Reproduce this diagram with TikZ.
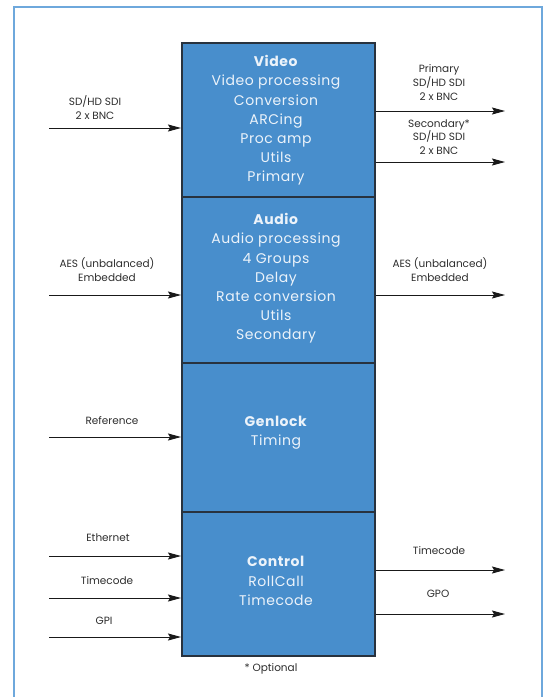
\documentclass[tikz,border=0pt]{standalone}
\usepackage{fontspec}
\setmainfont{Poppins}
\newfontfamily\boxfont[LetterSpace=4]{Poppins}
\usetikzlibrary{arrows.meta}
\definecolor{boxblue}{RGB}{72,142,204}
\definecolor{boxline}{RGB}{40,50,62}
\definecolor{boxtext}{RGB}{236,243,250}
\definecolor{framecol}{RGB}{110,168,220}
\definecolor{labeltext}{RGB}{45,45,45}
\definecolor{arrowcol}{RGB}{25,25,25}
\begin{document}
\begin{tikzpicture}[x=1pt,y=-1pt,
  blk/.style={draw=boxline, line width=1.5pt, fill=boxblue,
    minimum width=193pt, anchor=north west, inner sep=0pt},
  blktext/.style={text=boxtext, align=center, inner sep=0pt,
    font=\boxfont\fontsize{14}{19.2}\selectfont},
  lbl/.style={font=\fontsize{10.5}{13.8}\selectfont, align=center, text=labeltext, inner sep=0pt},
  arr/.style={draw=arrowcol, line width=0.9pt, -{Stealth[length=13pt,width=7pt,inset=2pt]}}]
\useasboundingbox (0,0) rectangle (549,697);
% frame
\draw[framecol, line width=1.2pt] (14,700) -- (14,7) -- (542,7) -- (542,700);
% blocks
\node[blk, minimum height=154pt] (video) at (181,42) {};
\node[blk, minimum height=166pt] (audio) at (181,196) {};
\node[blk, minimum height=149pt] (genlock) at (181,362) {};
\node[blk, minimum height=144pt] (control) at (181,511) {};
\node[blktext] (videot) at (276,120.5)
  {\textbf{Video}\\Video processing\\Conversion\\ARCing\\Proc amp\\Utils\\Primary};
\node[blktext] (audiot) at (276,278.5)
  {\textbf{Audio}\\Audio processing\\4 Groups\\Delay\\Rate conversion\\Utils\\Secondary};
\node[blktext] (genlockt) at (276,432.5) {\textbf{Genlock}\\Timing};
\node[blktext] (controlt) at (276,581) {\textbf{Control}\\RollCall\\Timecode};
% video in
\coordinate (vin) at (49,128);
\draw[arr] (vin) -- (vin -| video.west);
\node[lbl] (vinl) at (95,107.5) {SD/HD SDI\\2 x BNC};
% video out
\coordinate (vout1) at (505,111);
\draw[arr] (vout1 -| video.east) -- (vout1);
\node[lbl] (vout1l) at (439,82.5) {Primary\\SD/HD SDI\\2 x BNC};
\coordinate (vout2) at (505,162);
\draw[arr] (vout2 -| video.east) -- (vout2);
\node[lbl] (vout2l) at (439,137) {Secondary*\\SD/HD SDI\\2 x BNC};
% audio
\coordinate (ain) at (49,295);
\draw[arr] (ain) -- (ain -| audio.west);
\node[lbl] (ainl) at (107,269.5) {AES (unbalanced)\\Embedded};
\coordinate (aout) at (505,295);
\draw[arr] (aout -| audio.east) -- (aout);
\node[lbl] (aoutl) at (440,269.5) {AES (unbalanced)\\Embedded};
% genlock
\coordinate (gin) at (49,437);
\draw[arr] (gin) -- (gin -| genlock.west);
\node[lbl] (ginl) at (112,421) {Reference};
% control in
\coordinate (cin1) at (49,556);
\draw[arr] (cin1) -- (cin1 -| control.west);
\node[lbl] (cin1l) at (108,538) {Ethernet};
\coordinate (cin2) at (49,598);
\draw[arr] (cin2) -- (cin2 -| control.west);
\node[lbl] (cin2l) at (107,581) {Timecode};
\coordinate (cin3) at (49,637);
\draw[arr] (cin3) -- (cin3 -| control.west);
\node[lbl] (cin3l) at (104,621) {GPI};
% control out
\coordinate (cout1) at (505,570);
\draw[arr] (cout1 -| control.east) -- (cout1);
\node[lbl] (cout1l) at (439,551) {Timecode};
\coordinate (cout2) at (505,614);
\draw[arr] (cout2 -| control.east) -- (cout2);
\node[lbl] (cout2l) at (438,594) {GPO};
% note
\node[lbl] (note) at (271,669) {* Optional};
\end{tikzpicture}
\end{document}
